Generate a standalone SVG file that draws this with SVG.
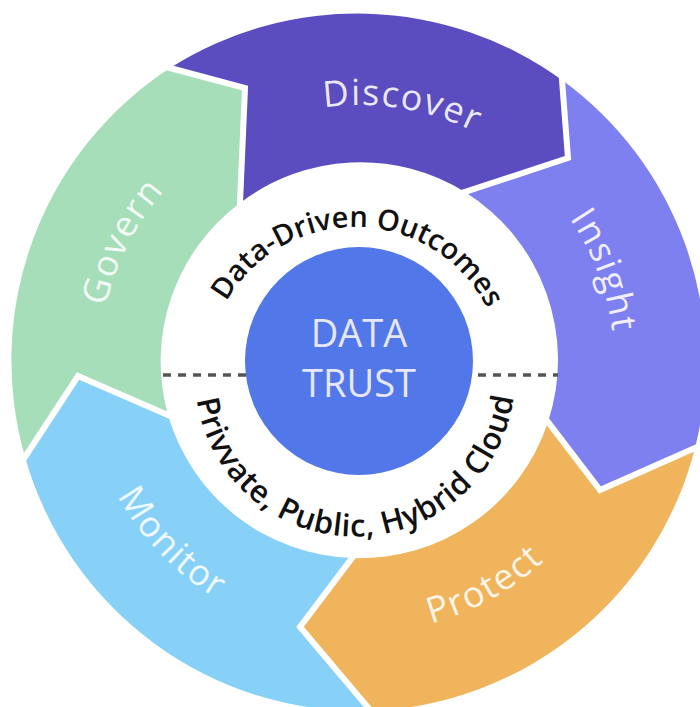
<svg xmlns="http://www.w3.org/2000/svg" width="700" height="707" viewBox="0 0 700 707">
<style>
.lbl{font-family:"Open Sans","Liberation Sans",sans-serif;font-size:36px;fill:#ffffff;fill-opacity:0.88;letter-spacing:1.5px}
.ring{font-family:"Open Sans","Liberation Sans",sans-serif;fill:#111111;font-weight:600}
.core{font-family:"Open Sans","Liberation Sans",sans-serif;font-size:38px;fill:#E6E8FA;text-anchor:middle}
.sep{fill:none;stroke:#ffffff;stroke-width:6;stroke-linejoin:miter;stroke-linecap:square}
</style>
<defs>
<path id="pDiscover" d="M228.8,141 A257,257 0 0 1 554.8,194.4"/>
<path id="pInsight" d="M485.1,140.9 A254,254 0 0 1 599.4,446.8"/>
<path id="pGovern" d="M106.8,421.2 A260,260 0 0 1 257.8,122.9"/>
<path id="pMonitor" d="M83.6,380.6 A277,277 0 0 0 330.3,637.4"/>
<path id="pProtect" d="M308.8,628.1 A271,271 0 0 0 613.2,458.7"/>
<path id="pTop" d="M207.05,371.13 A148,148 0 0 1 502.95,378.87"/>
<path id="pBottom" d="M195,378 A160,160 0 0 0 515,375"/>
</defs>
<rect width="700" height="707" fill="#ffffff"/>
<g id="discover">
<path d="M170,68 A349,349 0 0 1 562,80 L568,158 L465,192 A198,198 0 0 0 240,203 L245,88 Z" fill="#5B4DBF"/>
<text class="lbl"><textPath href="#pDiscover" startOffset="50%" text-anchor="middle">Discover</textPath></text>
</g>
<g id="insight">
<path d="M562,80 A349,349 0 0 1 695,448 L600,490 L548,422 A198,198 0 0 0 465,192 L568,158 Z" fill="#7F80F0"/>
<text class="lbl"><textPath href="#pInsight" startOffset="50%" text-anchor="middle">Insight</textPath></text>
</g>
<g id="protect">
<path d="M695,448 A349,349 0 0 1 371,711 L300,627 L352,558 A198,198 0 0 0 548,422 L600,490 Z" fill="#F0B45C"/>
<text class="lbl"><textPath href="#pProtect" startOffset="50%" text-anchor="middle">Protect</textPath></text>
</g>
<g id="monitor">
<path d="M371,711 A349,349 0 0 1 25,457 L78,376 L168,415 A198,198 0 0 0 352,558 L300,627 Z" fill="#87D1F8"/>
<text class="lbl"><textPath href="#pMonitor" startOffset="50%" text-anchor="middle">Monitor</textPath></text>
</g>
<g id="govern">
<path d="M25,457 A349,349 0 0 1 170,68 L245,88 L240,203 A198,198 0 0 0 168,415 L78,376 Z" fill="#A5DEB8"/>
<text class="lbl"><textPath href="#pGovern" startOffset="50%" text-anchor="middle">Govern</textPath></text>
</g>
<g id="separators">
<polyline class="sep" points="170,68 245,88 240,203"/>
<polyline class="sep" points="562,80 568,158 465,192"/>
<polyline class="sep" points="695,448 600,490 548,422"/>
<polyline class="sep" points="371,711 300,627 352,558"/>
<polyline class="sep" points="25,457 78,376 168,415"/>
</g>
<g id="divider">
<line x1="163" y1="375" x2="558" y2="375" stroke="#555555" stroke-width="3.5" stroke-dasharray="8,7"/>
</g>
<g id="ring-labels">
<text class="ring" font-size="29"><textPath href="#pTop" startOffset="50%" text-anchor="middle">Data-Driven Outcomes</textPath></text>
<text class="ring" font-size="31" letter-spacing="0.6"><textPath href="#pBottom" startOffset="50%" text-anchor="middle">Privvate, Public, Hybrid Cloud</textPath></text>
</g>
<g id="data-trust">
<circle cx="359" cy="361" r="114" fill="#5277E8"/>
<text class="core" x="359" y="347">DATA</text>
<text class="core" x="359" y="397">TRUST</text>
</g>
</svg>
